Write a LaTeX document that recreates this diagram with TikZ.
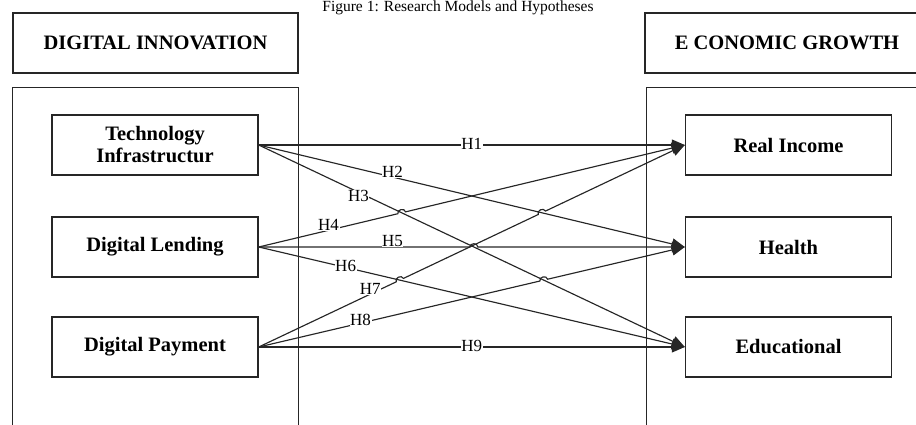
\documentclass[tikz,border=0pt]{standalone}
\usepackage{fontspec}
\setmainfont{Liberation Serif}
\usetikzlibrary{calc,arrows.meta}
\begin{document}
\begin{tikzpicture}[x=1pt,y=-1pt,
  frame/.style={draw=black!85, line width=1.4pt},
  hdr/.style={frame, minimum width=285pt, minimum height=60pt, inner sep=0pt,
    font=\fontsize{20.5}{22}\selectfont\bfseries},
  box/.style={frame, minimum width=206pt, minimum height=60pt, inner sep=0pt,
    align=center, font=\fontsize{20.5}{22}\selectfont\bfseries},
  panel/.style={frame, anchor=north west, minimum height=360pt, inner sep=0pt},
  lbl/.style={fill=white, inner sep=0.6pt, font=\fontsize{17}{17}\selectfont},
  link/.style={line width=1.15pt, draw=black!85},
  arr/.style={link, -{Triangle[length=13pt,width=11pt]}},
  hop/.style={bend left=90, looseness=1.4},
]
\useasboundingbox (0,0) rectangle (916,425);
% title
\node[anchor=base, font=\fontsize{15.5}{16}\selectfont, inner sep=0pt] (title) at (458,12)
  {Figure 1: Research Models and Hypotheses};
% headers
\node[hdr] (di) at (155.5,43) {DIGITAL INNOVATION};
\node[hdr, minimum width=284pt] (eg) at (787,43) {E CONOMIC GROWTH};
% panels
\node[panel, minimum width=286pt] (lp) at (12,87) {};
\node[panel, minimum width=290pt] (rp) at (646,87) {};
% left boxes
\node[box] (tech) at (155,145) {Technology\\Infrastructur};
\node[box] (lend) at (155,247) {Digital Lending};
\node[box] (pay)  at (155,347) {Digital Payment};
% right boxes
\node[box] (ri)  at (788.5,145) {Real Income};
\node[box] (hl)  at (788.5,247) {Health};
\node[box] (ed)  at (788.5,347) {Educational};
% anchors
\coordinate (tE) at (tech.east);
\coordinate (lE) at (lend.east);
\coordinate (pE) at (pay.east);
\coordinate (rW) at (ri.west);
\coordinate (hW) at (hl.west);
\coordinate (eW) at (ed.west);
% crossings with hops
\coordinate (x43) at (intersection of lE--rW and tE--eW);
\coordinate (x53) at (intersection of lE--hW and tE--eW);
\coordinate (x76) at (intersection of pE--rW and lE--eW);
\coordinate (x72) at (intersection of pE--rW and tE--hW);
\coordinate (x83) at (intersection of pE--hW and tE--eW);
% connectors
\draw[arr] (tE) -- (rW);
\draw[arr] (tE) -- (hW);
\draw[arr] (tE) -- (eW);
\draw[arr] (lE) -- ($(x43)!4pt!(lE)$) to[hop] ($(x43)!4pt!(rW)$) -- (rW);
\draw[arr] (lE) -- ($(x53)!4pt!(lE)$) to[hop] ($(x53)!4pt!(hW)$) -- (hW);
\draw[arr] (lE) -- (eW);
\draw[arr] (pE) -- ($(x76)!4pt!(pE)$) to[hop] ($(x76)!4pt!(rW)$)
  -- ($(x72)!4pt!(pE)$) to[hop] ($(x72)!4pt!(rW)$) -- (rW);
\draw[arr] (pE) -- ($(x83)!4pt!(pE)$) to[hop] ($(x83)!4pt!(hW)$) -- (hW);
\draw[arr] (pE) -- (eW);
% labels
\node[lbl] (h1) at ($(tE)!0.50!(rW)+(0,-1)$) {H1};
\node[lbl] (h2) at ($(tE)!0.314!(hW)+(0,-5)$) {H2};
\node[lbl] (h3) at ($(tE)!0.234!(eW)+(0,4)$) {H3};
\node[lbl] (h4) at ($(lE)!0.164!(rW)+(0,-5)$) {H4};
\node[lbl] (h5) at ($(lE)!0.314!(hW)+(0,-6)$) {H5};
\node[lbl] (h6) at ($(lE)!0.204!(eW)+(0,-1)$) {H6};
\node[lbl] (h7) at ($(pE)!0.262!(rW)+(0,-5)$) {H7};
\node[lbl] (h8) at ($(pE)!0.239!(hW)+(0,-3)$) {H8};
\node[lbl] (h9) at ($(pE)!0.50!(eW)+(0,-1)$) {H9};
\end{tikzpicture}
\end{document}
